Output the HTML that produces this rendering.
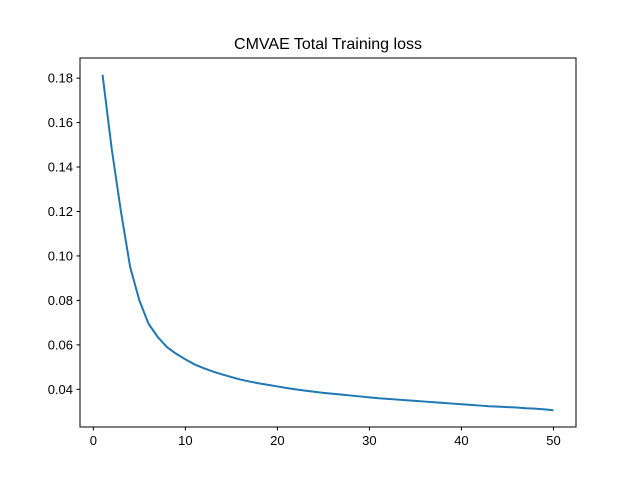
<!DOCTYPE html>
<html><head><meta charset="utf-8"><style>
body{margin:0;background:#fff}
svg{display:block;font-family:"Liberation Sans","DejaVu Sans",sans-serif}
</style></head><body>
<svg id="chart" width="640" height="480">
<rect width="640" height="480" fill="#fff"/>
<text x="328" y="49" font-size="16" text-anchor="middle">CMVAE Total Training loss</text>
<g id="xt"></g><g id="yt"></g>
<path id="line" fill="none" stroke="#1f77b4" stroke-width="2"/>
<rect x="80" y="58" width="496" height="369" fill="none" stroke="#000" stroke-width="1"/>
</svg>
<script>
const epochs=[];for(let i=1;i<=50;i++)epochs.push(i);
const lossValues=[0.1815,0.148,0.12,0.095,0.08,0.0695,0.0635,0.059,0.056,0.0535,0.0512,0.0495,0.048,0.0467,0.0455,0.0444,0.0435,0.0427,0.042,0.0413,0.0406,0.04,0.0394,0.0389,0.0384,0.038,0.0376,0.0372,0.0368,0.0364,0.036,0.0357,0.0354,0.0351,0.0348,0.0345,0.0342,0.0339,0.0336,0.0333,0.033,0.0327,0.0324,0.0322,0.032,0.0318,0.0315,0.0313,0.031,0.0306];
const xTicks=[0,10,20,30,40,50];
const yTicks=[0.04,0.06,0.08,0.10,0.12,0.14,0.16,0.18];
const L=80,R=576,T=58,B=427;
const xmin=Math.min(...epochs),xmax=Math.max(...epochs),xm=(xmax-xmin)*0.05;
const ymin=Math.min(...lossValues),ymax=Math.max(...lossValues),ym=(ymax-ymin)*0.05;
const sx=v=>L+(v-(xmin-xm))/((xmax+xm)-(xmin-xm))*(R-L);
const sy=v=>B-(v-(ymin-ym))/((ymax+ym)-(ymin-ym))*(B-T);
const NS="http://www.w3.org/2000/svg";
const xt=document.getElementById('xt'),yt=document.getElementById('yt');
xTicks.forEach(t=>{const x=sx(t);
const l=document.createElementNS(NS,'line');l.setAttribute('x1',x);l.setAttribute('x2',x);l.setAttribute('y1',B);l.setAttribute('y2',B+3.5);l.setAttribute('stroke','#000');


xt.appendChild(l);
const s=document.createElementNS(NS,'text');s.setAttribute('x',x);s.setAttribute('y',B+18);s.setAttribute('font-size','13');s.setAttribute('text-anchor','middle');s.textContent=t;


xt.appendChild(s);});
yTicks.forEach(t=>{const y=sy(t);
const l=document.createElementNS(NS,'line');l.setAttribute('x1',L-3.5);l.setAttribute('x2',L);l.setAttribute('y1',y);l.setAttribute('y2',y);l.setAttribute('stroke','#000');


yt.appendChild(l);
const s=document.createElementNS(NS,'text');s.setAttribute('x',L-7);s.setAttribute('y',y+4.5);s.setAttribute('font-size','13');s.setAttribute('text-anchor','end');s.textContent=t.toFixed(2);


yt.appendChild(s);});
document.getElementById('line').setAttribute('d',epochs.map((e,i)=>(i?'L':'M')+sx(e).toFixed(2)+','+sy(lossValues[i]).toFixed(2)).join(''));
</script>
</body></html>
